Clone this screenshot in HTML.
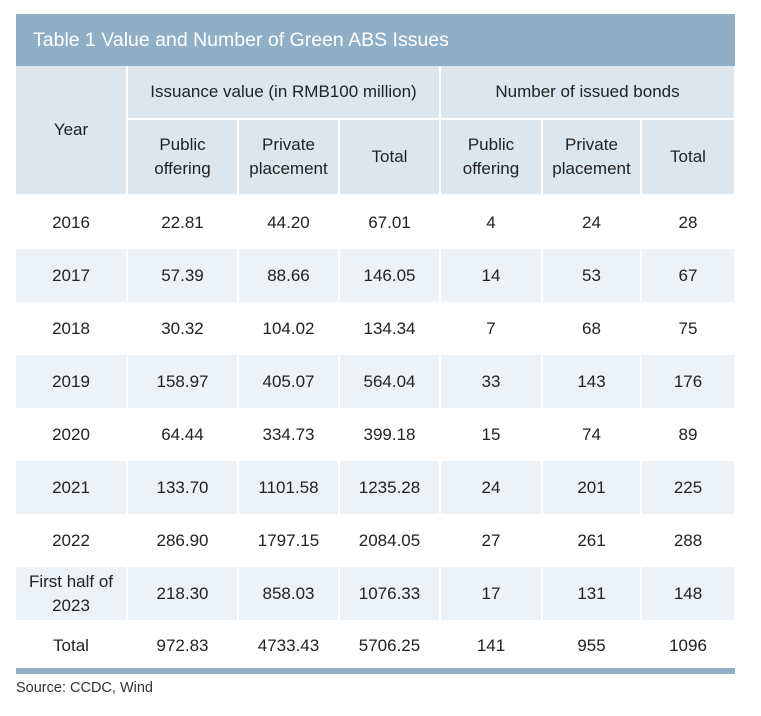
<!DOCTYPE html>
<html><head><meta charset="utf-8"><style>
body{margin:0;background:#fff;width:761px;height:716px;position:relative;font-family:"Liberation Sans",Arial,sans-serif;color:#222;}
#title{position:absolute;left:16px;top:14px;width:719px;height:52px;background:#90afc7;color:#fff;font-size:19.5px;line-height:52px;padding-left:17px;box-sizing:border-box;}
table{position:absolute;left:16px;top:66px;border-collapse:collapse;table-layout:fixed;width:719px;}
td,th{font-weight:normal;font-size:17px;text-align:center;padding:0;border-left:2px solid #fff;border-right:2px solid #fff;line-height:24px;}
td:first-child,th:first-child{border-left:none}
tr.h th{background:#dce6ef;border-bottom:2px solid #fff}
tr.s td{background:#edf2f7}
tr.d td{height:53px}
tr.t td{height:51px}
#bar{position:absolute;left:16px;top:668px;width:719px;height:6px;background:#90afc7}
#src{position:absolute;left:16px;top:680px;font-size:14.5px;color:#333}
</style></head><body>
<div id="title">Table 1 Value and Number of Green ABS Issues</div>
<table>
<colgroup><col style="width:111px"><col style="width:111px"><col style="width:101px"><col style="width:101px"><col style="width:102px"><col style="width:99px"><col style="width:94px"></colgroup>
<tr class="h" style="height:53px"><th rowspan="2">Year</th><th colspan="3">Issuance value (in RMB100 million)</th><th colspan="3">Number of issued bonds</th></tr>
<tr class="h" style="height:76px"><th>Public<br>offering</th><th>Private<br>placement</th><th>Total</th><th>Public<br>offering</th><th>Private<br>placement</th><th>Total</th></tr>
<tr class="d"><td>2016</td><td>22.81</td><td>44.20</td><td>67.01</td><td>4</td><td>24</td><td>28</td></tr>
<tr class="d s"><td>2017</td><td>57.39</td><td>88.66</td><td>146.05</td><td>14</td><td>53</td><td>67</td></tr>
<tr class="d"><td>2018</td><td>30.32</td><td>104.02</td><td>134.34</td><td>7</td><td>68</td><td>75</td></tr>
<tr class="d s"><td>2019</td><td>158.97</td><td>405.07</td><td>564.04</td><td>33</td><td>143</td><td>176</td></tr>
<tr class="d"><td>2020</td><td>64.44</td><td>334.73</td><td>399.18</td><td>15</td><td>74</td><td>89</td></tr>
<tr class="d s"><td>2021</td><td>133.70</td><td>1101.58</td><td>1235.28</td><td>24</td><td>201</td><td>225</td></tr>
<tr class="d"><td>2022</td><td>286.90</td><td>1797.15</td><td>2084.05</td><td>27</td><td>261</td><td>288</td></tr>
<tr class="d s" style=""><td style="height:52px">First half of<br>2023</td><td>218.30</td><td>858.03</td><td>1076.33</td><td>17</td><td>131</td><td>148</td></tr>
<tr class="t"><td>Total</td><td>972.83</td><td>4733.43</td><td>5706.25</td><td>141</td><td>955</td><td>1096</td></tr>
</table>
<div id="bar"></div>
<div id="src">Source: CCDC, Wind</div>
</body></html>
